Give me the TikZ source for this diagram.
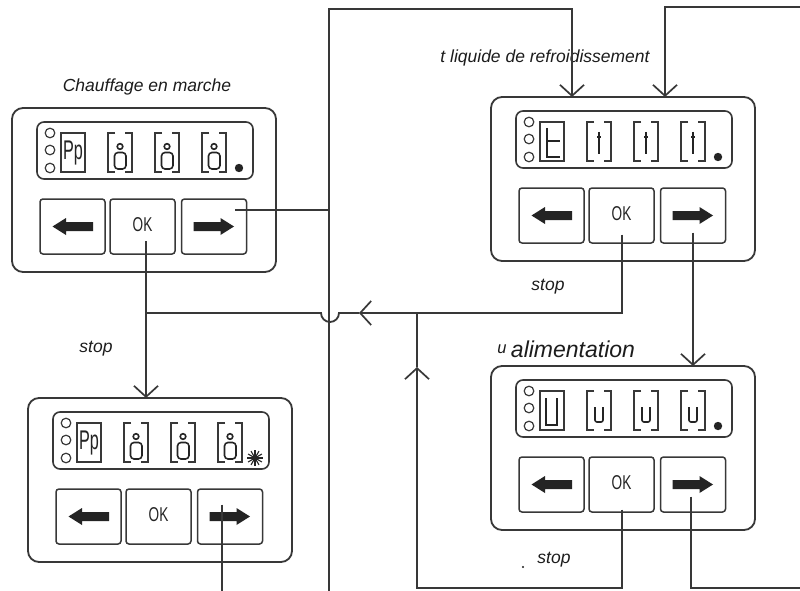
\documentclass[tikz,border=0pt]{standalone}
\usepackage{fontspec}
\setmainfont{Liberation Sans}
\usetikzlibrary{arrows.meta}
\definecolor{ink}{HTML}{383838}
\definecolor{glyph}{HTML}{242424}
\definecolor{txt}{HTML}{1C1C1C}
\tikzset{
  vtip/.tip={Straight Barb[length=11pt,width=24pt,line width=1.7pt]},
  wire/.style={draw=ink,line width=1.8pt},
  outerbox/.style={draw=ink,line width=1.8pt,rounded corners=11pt,minimum width=264pt,minimum height=164pt,inner sep=0pt,outer sep=0pt},
  dispbox/.style={draw=ink,line width=1.6pt,rounded corners=7pt},
  keybox/.style={draw=ink,line width=1.5pt,rounded corners=3pt,minimum width=65pt,minimum height=55pt,inner sep=0pt,outer sep=0pt},
  lampring/.style={draw=ink,line width=1.2pt},
  cell/.style={draw=ink,line width=1.4pt},
  seg/.style={draw=glyph,line width=1.6pt},
  keyglyph/.style={fill=glyph},
  oklabel/.style={font=\fontsize{20}{20}\selectfont,text=glyph,xscale=0.68,inner sep=0pt},
  pplabel/.style={font=\fontsize{27}{27}\selectfont,text=glyph,xscale=0.6,inner sep=0pt},
  lbl/.style={font=\fontsize{17.5}{20}\selectfont\itshape,text=txt,inner sep=0pt},
  % display glyphs, drawn in a 24 x 39 cell
  heatA/.pic={\node[pplabel] (-pp) at (12,20) {Pp};},
  heatB/.pic={\draw[seg] (12,13.5) circle (2.8); \draw[seg,rounded corners=3.5pt] (6.5,19.5) rectangle (18,36);},
  coolA/.pic={\draw[seg] (7,6) -- (7,35) -- (20,35); \draw[seg] (7,19) -- (20,19);},
  coolB/.pic={\draw[seg] (12,10) -- (12,32); \draw[seg] (10,15) -- (14,15);},
  voltA/.pic={\draw[seg] (6,7) -- (6,34) -- (17,34) -- (17,7);},
  voltB/.pic={\draw[seg,rounded corners=2pt] (8,16) -- (8,31) -- (16,31) -- (16,16);},
  % control panel: frame, display, three keys
  panel/.pic={
    \node[outerbox] (-box) at (132,82) {};
    \draw[dispbox] (25,14) rectangle (241,71);
    \foreach \yy in {25,42,60} {\draw[lampring] (38,\yy) circle (4.8);}
    \draw[cell] (49,25) rectangle (73,64);
    \foreach \cx in {96,143,190} {
      \draw[cell] (\cx+7,25) -- (\cx,25) -- (\cx,64) -- (\cx+7,64);
      \draw[cell] (\cx+17,25) -- (\cx+24,25) -- (\cx+24,64) -- (\cx+17,64);
      \pic at (\cx,25) {#1B};
    }
    \pic at (49,25) {#1A};
    \coordinate (-lamp) at (227,60);
    \node[keybox] (-left) at (60.5,118.5) {};
    \node[keybox] (-ok) at (130.5,118.5) {};
    \node[keybox] (-right) at (202,118.5) {};
    \node[oklabel] (-oktext) at (130.5,117) {OK};
    \fill[keyglyph] (40.5,118.5) -- (54,110) -- (54,114) -- (81,114) -- (81,123) -- (54,123) -- (54,127) -- cycle;
    \fill[keyglyph] (222,118.5) -- (208.5,110) -- (208.5,114) -- (181.5,114) -- (181.5,123) -- (208.5,123) -- (208.5,127) -- cycle;
  },
}
\begin{document}
\begin{tikzpicture}[x=1pt,y=-1pt]
\useasboundingbox (0,0) rectangle (800,591);
\fill[white] (0,0) rectangle (800,591);

% panels
\pic (p1) at (12,108) {panel=heat};
\pic (p2) at (491,97) {panel=cool};
\pic (p3) at (28,398) {panel=heat};
\pic (p4) at (491,366) {panel=volt};

% indicator lamps
\fill[glyph] (p1-lamp) circle (4.2);
\fill[glyph] (p2-lamp) circle (4.2);
\fill[glyph] (p4-lamp) circle (4.2);
\fill[glyph] (p3-lamp) circle (2.5);
\foreach \a in {0,30,...,330} {\draw[glyph,line width=1.1pt] (p3-lamp) -- ++(\a:8);}

% labels
\node[lbl] (heading1) at (147,87) {Chauffage en marche};
\node[lbl] (heading2) at (545,58) {t liquide de refroidissement};
\node[lbl] (stop1) at (96,349) {stop};
\node[lbl] (stop2) at (548,287) {stop};
\node[lbl] (stop3) at (554,560) {stop};
\fill[txt] (523,567) circle (1.2);
\node[lbl,anchor=base,font=\fontsize{16.5}{18}\selectfont\itshape] (unit) at (502,353) {u};
\node[lbl,anchor=base,font=\fontsize{23}{26}\selectfont\itshape] (heading3) at (573,357) {alimentation};

% OK of the heating panel down to the blinking panel
\coordinate (rowY) at (0,313);
\coordinate (s1) at ([xshift=3.5pt,yshift=-14.5pt]p1-ok.center);
\draw[wire,-vtip] (s1) -- (s1 |- p3-box.north);

% stop of the coolant panel back to the left, hopping over the bus
\coordinate (s2) at ([xshift=0.5pt,yshift=-19pt]p2-ok.center);
\coordinate (arrL) at (359,313);
\coordinate (hopR) at (339,313);
\draw[wire,-vtip] (s2) |- (arrL);
\draw[wire] (arrL) -- (hopR) arc[start angle=0,end angle=180,radius=9] -- (s1 |- rowY);

% bus on the left of the coolant panel
\coordinate (busTop) at (329,9);
\coordinate (busBot) at (329,591);
\coordinate (s3) at ([xshift=21pt,yshift=16.5pt]p1-right.center);
\draw[wire] (s3) -- (s3 -| busTop);
\coordinate (t1) at (572,9);
\draw[wire,-vtip] (busBot) -- (busTop) -- (t1) -- (t1 |- p2-box.north);

% return from the right edge
\coordinate (edgeTop) at (800,7);
\coordinate (t2) at (665,7);
\draw[wire,-vtip] (edgeTop) -- (t2) -- (t2 |- p2-box.north);

% coolant panel to supply panel
\coordinate (s4) at ([yshift=-17pt]p2-right.center);
\draw[wire,-vtip] (s4) -- (s4 |- p4-box.north);

% right key of the blinking panel
\coordinate (s5) at ([xshift=-8pt,yshift=12pt]p3-right.center);
\draw[wire] (s5) -- (s5 |- busBot);

% stop of the supply panel
\coordinate (r0) at (417,313);
\coordinate (r1) at (417,367);
\coordinate (r2) at (417,588);
\coordinate (s6) at ([xshift=0.5pt,yshift=-25pt]p4-ok.center);
\draw[wire,-vtip] (s6) |- (r2) -- (r1);
\draw[wire] (r1) -- (r0);

% right key of the supply panel
\coordinate (s7) at ([xshift=-2pt,yshift=-12pt]p4-right.center);
\coordinate (edgeBot) at (800,588);
\draw[wire] (s7) |- (edgeBot);
\end{tikzpicture}
\end{document}
